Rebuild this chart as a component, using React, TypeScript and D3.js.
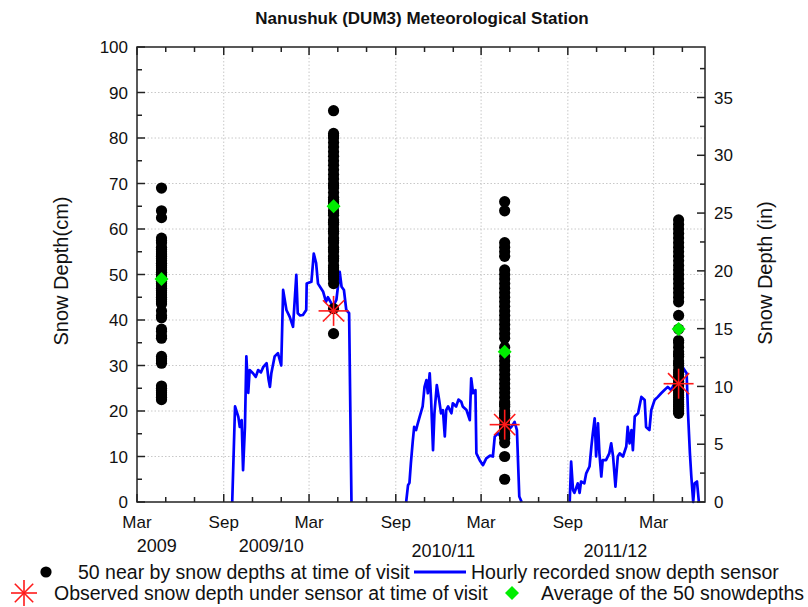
import React from "react";
import * as d3 from "d3";

// Nanushuk (DUM3) snow survey vs. hourly sensor record

const parse = d3.timeParse("%Y-%m-%d");

const visitDates = ["2009-04-22", "2010-04-22", "2011-04-20", "2012-04-23"];

const nearby2009 = [69, 64, 62.5, 58, 57.5, 57, 56, 55.5, 55, 54.5, 54, 53.5, 53, 52.5, 52, 51.5, 51, 50.5, 50, 49.5,
  49, 48.5, 48, 47.5, 47, 46.5, 46, 45.5, 45, 44.5, 44, 43.5, 42, 41, 40.5, 38, 37.5, 36.5, 36, 32,
  31.5, 31, 30.5, 25.5, 25, 24.5, 24, 23.5, 23, 22.5];
const nearby2010 = [86, 81, 80.5, 80, 79, 78, 77, 76, 75, 74, 73, 72, 71, 70, 69.5, 69, 68, 67, 66.5, 66,
  65.5, 65, 64, 63.5, 63, 62, 61.5, 61, 60, 59.5, 59, 58, 57.5, 57, 56, 55.5, 55, 54, 53.5, 53,
  52, 51.5, 51, 50.5, 50, 49.5, 49, 48, 42.5, 37];
const nearby2011 = [66, 64, 57, 56, 55, 54, 51, 50, 49, 48, 47, 46, 45, 44, 43, 42, 41, 40, 39, 38,
  37, 36, 34, 32, 31, 30, 29, 28, 27, 26, 25, 24, 23, 22, 21.5, 21, 20, 19.5, 19, 18.5,
  18, 17, 16.5, 16, 15, 14.5, 14, 13, 10, 5];
const nearby2012 = [62, 61, 60, 59, 58, 57, 56, 55, 54, 53, 52, 51, 50, 49, 48, 47, 46, 45, 44, 41,
  38, 35.5, 35, 34, 33, 32.5, 32, 31, 30.5, 30, 29, 28.5, 28, 27.5, 27, 26.5, 26, 25.5, 25, 24.5,
  24, 23.5, 23, 22.5, 22, 21.5, 21, 20.5, 20, 19.5];
const nearbyDepths = [nearby2009, nearby2010, nearby2011, nearby2012];

const observedDepths: (number | null)[] = [null, 42, 17, 26];
const averageDepths = [49, 65, 33, 38];

// hourly sensor, one array per winter
const sensor2009: [string, number][] = [
  ["2009-09-19", 0], ["2009-09-25", 21], ["2009-10-02", 18.7], ["2009-10-05", 16.5], ["2009-10-09", 18],
  ["2009-10-12", 7], ["2009-10-16", 16.5], ["2009-10-19", 32], ["2009-10-23", 24], ["2009-10-26", 29],
  ["2009-11-02", 28.3], ["2009-11-08", 27.5], ["2009-11-13", 29], ["2009-11-19", 28.5], ["2009-11-24", 29.7],
  ["2009-12-01", 30.5], ["2009-12-05", 27], ["2009-12-08", 25.3], ["2009-12-11", 28.3], ["2009-12-18", 32],
  ["2009-12-25", 32.7], ["2010-01-01", 30], ["2010-01-05", 46.6], ["2010-01-12", 42.2], ["2010-01-19", 40.7],
  ["2010-01-26", 38.5], ["2010-02-02", 49.9], ["2010-02-05", 41.5], ["2010-02-10", 41], ["2010-02-16", 41.1],
  ["2010-02-23", 42.2], ["2010-02-24", 48], ["2010-03-06", 48.4], ["2010-03-11", 54.6], ["2010-03-16", 52.5],
  ["2010-03-20", 48], ["2010-03-31", 46.2], ["2010-04-06", 44], ["2010-04-10", 45], ["2010-04-21", 43],
  ["2010-04-28", 44.4], ["2010-05-05", 50.6], ["2010-05-09", 47.3], ["2010-05-14", 46.6], ["2010-05-19", 42.2],
  ["2010-05-25", 41.5], ["2010-05-30", 0],
];
const sensor2010: [string, number][] = [
  ["2010-09-23", 0], ["2010-09-27", 3.7], ["2010-09-30", 4.2], ["2010-10-03", 8.5], ["2010-10-07", 13.3],
  ["2010-10-10", 16.5], ["2010-10-14", 15.8], ["2010-10-17", 17], ["2010-10-21", 18.5], ["2010-10-28", 21],
  ["2010-11-01", 25.3], ["2010-11-05", 26.8], ["2010-11-08", 23.9], ["2010-11-12", 28.3], ["2010-11-15", 22.4],
  ["2010-11-19", 11.4], ["2010-11-22", 19.5], ["2010-11-27", 25.7], ["2010-12-02", 22.4], ["2010-12-06", 19.5],
  ["2010-12-10", 20.2], ["2010-12-14", 14.4], ["2010-12-17", 20.2], ["2010-12-21", 21], ["2010-12-28", 19.5],
  ["2010-12-31", 21.7], ["2011-01-07", 21], ["2011-01-12", 22.5], ["2011-01-18", 22], ["2011-01-21", 21],
  ["2011-01-29", 20.2], ["2011-02-05", 18], ["2011-02-08", 27.2], ["2011-02-12", 23.9], ["2011-02-17", 24.6],
  ["2011-02-19", 10.7], ["2011-02-26", 9.2], ["2011-03-05", 8.1], ["2011-03-12", 9.6], ["2011-03-20", 10.2],
  ["2011-03-26", 10], ["2011-03-30", 14.4], ["2011-04-06", 15.1], ["2011-04-20", 13.3], ["2011-04-24", 15.5],
  ["2011-05-04", 16.5], ["2011-05-11", 17.6], ["2011-05-16", 15.8], ["2011-05-21", 1.2], ["2011-05-26", 0],
];
const sensor2011: [string, number][] = [
  ["2011-09-05", 0], ["2011-09-08", 8.9], ["2011-09-12", 2.6], ["2011-09-15", 2], ["2011-09-22", 4.1],
  ["2011-09-26", 2], ["2011-09-29", 4.5], ["2011-10-06", 4.1], ["2011-10-10", 6.3], ["2011-10-17", 7.8],
  ["2011-10-21", 12.2], ["2011-10-24", 15.1], ["2011-10-28", 18.4], ["2011-10-31", 10], ["2011-11-04", 17.3],
  ["2011-11-07", 10.7], ["2011-11-11", 5.6], ["2011-11-14", 9.2], ["2011-11-21", 9.2], ["2011-11-28", 10.7],
  ["2011-12-02", 12.9], ["2011-12-06", 10], ["2011-12-11", 3.4], ["2011-12-16", 10], ["2011-12-20", 10.7],
  ["2011-12-27", 10], ["2012-01-03", 12.2], ["2012-01-06", 16.5], ["2012-01-10", 12.9], ["2012-01-14", 15.8],
  ["2012-01-17", 11.4], ["2012-01-21", 18.8], ["2012-01-28", 19.5], ["2012-02-04", 23.1], ["2012-02-11", 22.4],
  ["2012-02-14", 16.5], ["2012-02-21", 15.8], ["2012-02-25", 20.2], ["2012-03-03", 22.4], ["2012-03-10", 23.1],
  ["2012-03-17", 23.9], ["2012-03-24", 24.6], ["2012-03-31", 25.3], ["2012-04-07", 24.6], ["2012-04-18", 26.8],
  ["2012-04-25", 25.3], ["2012-05-01", 29.7], ["2012-05-10", 28.3], ["2012-05-13", 19.5], ["2012-05-17", 10.7],
  ["2012-05-20", 5.6], ["2012-05-24", 0], ["2012-05-27", 4.1], ["2012-06-01", 4.5], ["2012-06-05", 0],
];
const sensorSeasons = [sensor2009, sensor2010, sensor2011];

const seasonLabels = ["2009", "2009/10", "2010/11", "2011/12"];
const seasonLabelDates = ["2009-04-12", "2009-12-11", "2010-12-11", "2011-12-11"];

const cmTicks = d3.range(0, 101, 10);
const inTicks = d3.range(0, 36, 5);

const W = 808, H = 607;
const L = 137, R = 705, T = 47, B = 502;
const font = "'Liberation Sans', Arial, sans-serif";

function Asterisk({ cx, cy, r }: { cx: number; cy: number; r: number }) {
  const angles = [0, 45, 90, 135];
  return (
    <g stroke="#ff1a1a" strokeWidth={1.6}>
      {angles.map((a) => {
        const dx = r * Math.cos((a * Math.PI) / 180);
        const dy = r * Math.sin((a * Math.PI) / 180);
        return <line key={a} x1={cx - dx} y1={cy - dy} x2={cx + dx} y2={cy + dy} />;
      })}
    </g>
  );
}

function Diamond({ cx, cy, r }: { cx: number; cy: number; r: number }) {
  return <path d={`M${cx},${cy - r}L${cx + r},${cy}L${cx},${cy + r}L${cx - r},${cy}Z`} fill="#00ee00" />;
}

export default function App() {
  const x = d3.scaleTime().domain([new Date(2009, 2, 1), new Date(2012, 5, 18)]).range([L, R]);
  const y = d3.scaleLinear().domain([0, 100]).range([B, T]);
  const yIn = d3.scaleLinear().domain([0, 100 / 2.54]).range([B, T]);

  const monthTicks = d3.timeMonth.every(2)!.range(new Date(2009, 2, 1), new Date(2012, 5, 18));
  const isMajor = (d: Date) => d.getMonth() === 2 || d.getMonth() === 8;
  const minorCm = d3.range(5, 100, 10);
  const inMinor = d3.range(2.5, 39, 5);

  const line = d3
    .line<[string, number]>()
    .x((d) => x(parse(d[0])!))
    .y((d) => y(d[1]));

  return (
    <svg width={W} height={H} style={{ position: "absolute", left: 0, top: 0, background: "#fff" }} fontFamily={font}>
      <text x={422} y={24} textAnchor="middle" fontSize={17} fontWeight="bold" fill="#111">
        Nanushuk (DUM3) Meteorological Station
      </text>

      {/* grid */}
      <g stroke="#c8c8c8" strokeWidth={1} strokeDasharray="1.5,2">
        {cmTicks.slice(1, -1).map((v) => (
          <line key={"h" + v} x1={L} x2={R} y1={y(v)} y2={y(v)} />
        ))}
        {monthTicks.filter((d) => isMajor(d) && x(d) > L + 1).map((d) => (
          <line key={"v" + d.getTime()} x1={x(d)} x2={x(d)} y1={T} y2={B} />
        ))}
      </g>

      {/* sensor line */}
      {sensorSeasons.map((s, i) => (
        <path key={i} d={line(s) || ""} fill="none" stroke="#0000ff" strokeWidth={2.7} strokeLinejoin="round" />
      ))}

      {/* nearby snow depths */}
      {nearbyDepths.map((vals, i) => {
        const cx = x(parse(visitDates[i])!);
        return (
          <g key={i} fill="#000">
            {vals.map((v, j) => (
              <circle key={j} cx={cx} cy={y(v)} r={5.6} />
            ))}
          </g>
        );
      })}
      {averageDepths.map((v, i) => (
        <Diamond key={i} cx={x(parse(visitDates[i])!)} cy={y(v)} r={7} />
      ))}
      {observedDepths.map((v, i) =>
        v == null ? null : <Asterisk key={i} cx={x(parse(visitDates[i])!)} cy={y(v)} r={15} />
      )}

      {/* frame and ticks */}
      <g stroke="#222" strokeWidth={1.5} fill="none">
        <rect x={L} y={T} width={R - L} height={B - T} />
        {cmTicks.map((v) => (
          <line key={"l" + v} x1={L} x2={L + 8} y1={y(v)} y2={y(v)} />
        ))}
        {minorCm.map((v) => (
          <line key={"lm" + v} x1={L} x2={L + 5} y1={y(v)} y2={y(v)} />
        ))}
        {inTicks.map((v) => (
          <line key={"r" + v} x1={R - 8} x2={R} y1={yIn(v)} y2={yIn(v)} />
        ))}
        {inMinor.map((v) => (
          <line key={"rm" + v} x1={R - 5} x2={R} y1={yIn(v)} y2={yIn(v)} />
        ))}
        {monthTicks.map((d) => {
          const len = isMajor(d) ? 8 : 5;
          return (
            <g key={"x" + d.getTime()}>
              <line x1={x(d)} x2={x(d)} y1={B} y2={B - len} />
              <line x1={x(d)} x2={x(d)} y1={T} y2={T + len} />
            </g>
          );
        })}
      </g>

      {/* tick labels */}
      <g fontSize={17} fill="#111">
        {cmTicks.map((v) => (
          <text key={v} x={128} y={y(v)} dy="0.36em" textAnchor="end">
            {v}
          </text>
        ))}
        {inTicks.map((v) => (
          <text key={v} x={714} y={yIn(v)} dy="0.36em" textAnchor="start">
            {v}
          </text>
        ))}
        {monthTicks.filter(isMajor).map((d) => (
          <text key={d.getTime()} x={x(d)} y={528} textAnchor="middle">
            {d3.timeFormat("%b")(d)}
          </text>
        ))}
      </g>
      <g fontSize={18} fill="#111" textAnchor="middle">
        {seasonLabels.map((s, i) => (
          <text key={s} x={x(parse(seasonLabelDates[i])!)} y={i < 2 ? 552 : 557}>
            {s}
          </text>
        ))}
      </g>

      {/* axis titles */}
      <text transform="translate(68,271) rotate(-90)" textAnchor="middle" fontSize={20} fill="#111">
        Snow Depth(cm)
      </text>
      <text transform="translate(772,273) rotate(-90)" textAnchor="middle" fontSize={20} fill="#111">
        Snow Depth (in)
      </text>

      {/* legend */}
      <g fontSize={19.5} fill="#111">
        <circle cx={46} cy={572} r={5.6} fill="#000" />
        <text x={78} y={579}>50 near by snow depths at time of visit</text>
        <line x1={414} x2={466} y1={572} y2={572} stroke="#0000ff" strokeWidth={3} />
        <text x={471} y={579}>Hourly recorded snow depth sensor</text>
        <Asterisk cx={24} cy={593} r={13} />
        <text x={54} y={600}>Observed snow depth under sensor at time of visit</text>
        <Diamond cx={512} cy={593} r={7} />
        <text x={541} y={600}>Average of the 50 snowdepths</text>
      </g>
    </svg>
  );
}
